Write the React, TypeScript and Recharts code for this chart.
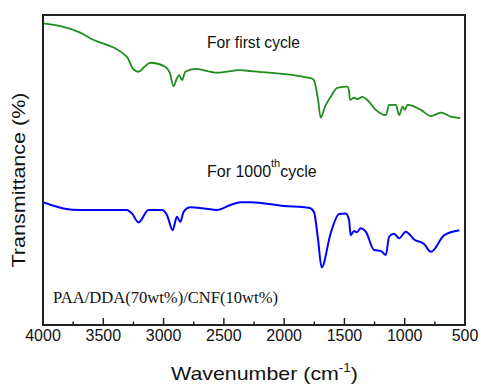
import { LineChart, Line, XAxis, YAxis, ReferenceArea } from "recharts";

// wavenumber (cm-1) and transmittance (a.u.)
const firstWn = [4000, 3692, 3609, 3304, 3250, 3208, 3160, 3110, 2986, 2950, 2917, 2890, 2870, 2847, 2820, 2737, 2556, 2362, 2279, 1780, 1753, 1720, 1697, 1660, 1614, 1559, 1476, 1462, 1454, 1420, 1393, 1351, 1310, 1240, 1157, 1129, 1074, 1046, 1018, 999, 977, 866, 783, 700, 617, 540];
const firstT = [97.3, 94.3, 92.5, 86.5, 82.5, 81.7, 83.2, 84.6, 83.3, 81.5, 77.1, 79.5, 80.6, 79.0, 81.7, 82.6, 81.4, 82.2, 81.9, 79.6, 79.0, 73.0, 66.9, 70.5, 73.6, 76.5, 76.9, 75.5, 72.6, 73.3, 72.9, 73.6, 72.6, 69.4, 67.7, 71.0, 71.0, 67.7, 70.4, 69.4, 71.0, 69.4, 67.4, 68.5, 67.2, 66.7];

const lastWn = [3992, 3831, 3692, 3304, 3263, 3208, 3125, 3014, 2972, 2925, 2889, 2861, 2834, 2778, 2667, 2556, 2445, 2362, 2279, 2002, 1795, 1753, 1720, 1689, 1614, 1545, 1489, 1462, 1448, 1420, 1398, 1365, 1323, 1254, 1199, 1157, 1129, 1088, 1046, 991, 922, 839, 783, 672, 547];
const lastT = [39.5, 37.6, 37.1, 37.1, 36.0, 33.1, 37.1, 37.1, 35.5, 30.6, 34.9, 33.3, 36.5, 38.0, 37.6, 37.1, 38.7, 39.6, 39.6, 38.4, 37.8, 36.5, 28.0, 18.6, 29.6, 35.8, 36.0, 33.9, 29.0, 30.3, 29.9, 31.2, 30.1, 24.2, 23.9, 22.6, 28.5, 29.4, 28.0, 30.1, 27.6, 26.1, 23.6, 29.0, 30.6];

const wnTicks = [4000, 3750, 3500, 3250, 3000, 2750, 2500, 2250, 2000, 1750, 1500, 1250, 1000, 750, 500];

const firstData = firstWn.map((wn, i) => ({ wn, t: firstT[i] }));
const lastData = lastWn.map((wn, i) => ({ wn, t: lastT[i] }));

const SANS = "'Liberation Sans', Arial, sans-serif";
const SERIF = "'Liberation Serif', 'Times New Roman', serif";
const FRAME = "#222";

function WnTick(props: any) {
  const { x, y, payload } = props;
  const major = payload.value % 500 === 0;
  return (
    <g>
      <line x1={x} x2={x} y1={y} y2={y - (major ? 7 : 3.5)} stroke={FRAME} strokeWidth={1.5} />
      {major && (
        <text x={x} y={y + 16} textAnchor="middle" fontSize={16} fill="#111" fontFamily={SANS}>
          {payload.value}
        </text>
      )}
    </g>
  );
}

function XLabel(props: any) {
  const { y } = props.viewBox;
  return (
    <text x={264.5} y={y + 55} textAnchor="middle" fontSize={19} fill="#111" fontFamily={SANS} textLength={187} lengthAdjust="spacingAndGlyphs">
      Wavenumber (cm<tspan dy={-8} fontSize={12}>-1</tspan><tspan dy={8}>)</tspan>
    </text>
  );
}

function YLabel() {
  return (
    <text x={25} y={180} transform="rotate(-90 25 180)" textAnchor="middle" fontSize={18} fill="#111" fontFamily={SANS} textLength={175} lengthAdjust="spacingAndGlyphs">
      Transmittance (%)
    </text>
  );
}

export default function App() {
  return (
    <div style={{ position: "absolute", left: 0, top: 0, width: 481, height: 384, background: "#fff" }}>
      <LineChart width={481} height={384} margin={{ top: 15, right: 16, bottom: 0, left: 8 }}>
        <XAxis
          dataKey="wn"
          type="number"
          domain={[500, 4000]}
          reversed
          ticks={wnTicks}
          interval={0}
          allowDuplicatedCategory={false}
          tickSize={0}
          tickMargin={0}
          tickLine={false}
          tick={<WnTick />}
          height={59}
          axisLine={{ stroke: FRAME, strokeWidth: 2 }}
          label={{ content: (p: any) => <XLabel {...p} /> }}
        />
        <YAxis
          type="number"
          domain={[0, 100]}
          width={35}
          tick={false}
          tickLine={false}
          axisLine={{ stroke: FRAME, strokeWidth: 2 }}
          label={{ content: () => <YLabel /> }}
        />
        <ReferenceArea x1={4000} x2={500} y1={0} y2={100} fill="none" stroke={FRAME} strokeWidth={2} />
        <Line data={firstData} dataKey="t" type="monotone" stroke="#1e8c1e" strokeWidth={1.8} dot={false} isAnimationActive={false} />
        <Line data={lastData} dataKey="t" type="monotone" stroke="#0000ff" strokeWidth={2} dot={false} isAnimationActive={false} />
      </LineChart>
      <svg width={481} height={384} style={{ position: "absolute", left: 0, top: 0, pointerEvents: "none" }}>
        <text x={207} y={48} fontSize={16} fill="#111" fontFamily={SANS} textLength={93} lengthAdjust="spacingAndGlyphs">
          For first cycle
        </text>
        <text x={207} y={177} fontSize={16} fill="#111" fontFamily={SANS}>
          For 1000<tspan dy={-10} fontSize={11}>th</tspan><tspan dy={10}>cycle</tspan>
        </text>
        <text x={53} y={303} fontSize={16} fill="#111" fontFamily={SERIF} textLength={225} lengthAdjust="spacingAndGlyphs">
          PAA/DDA(70wt%)/CNF(10wt%)
        </text>
      </svg>
    </div>
  );
}
